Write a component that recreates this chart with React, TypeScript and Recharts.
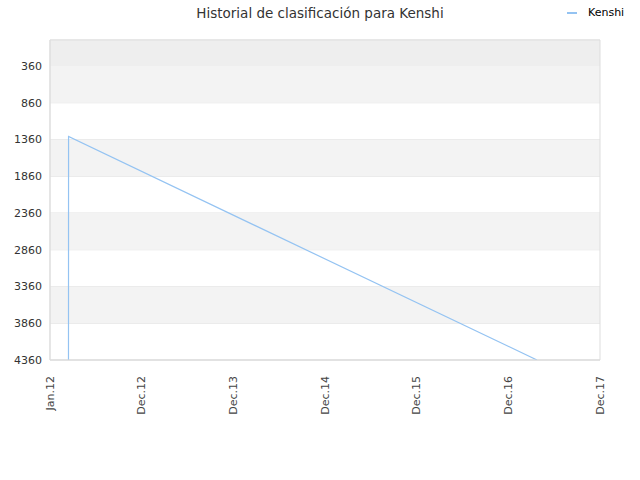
import React from "react";
import {
  LineChart,
  Line,
  XAxis,
  YAxis,
  CartesianGrid,
  ReferenceArea,
} from "recharts";

// months counted from the left edge of the axis (Dec 2011)
const MONTHS = [2.42, 2.43, 63.75];
const RANKS = [4360, 1320, 4360];

const X_TICKS = [0, 12, 24, 36, 48, 60, 72];
const X_LABELS = ["Jan.12", "Dec.12", "Dec.13", "Dec.14", "Dec.15", "Dec.16", "Dec.17"];
const Y_TICKS = [360, 860, 1360, 1860, 2360, 2860, 3360, 3860, 4360];
const Y_DOMAIN: [number, number] = [6, 4360];

// shaded bands between ticks
const BAND_FROM = [6, 360, 1360, 2360, 3360];
const BAND_TO = [360, 860, 1860, 2860, 3860];
const BAND_FILL = ["#eeeeee", "#f3f3f3", "#f3f3f3", "#f3f3f3", "#f3f3f3"];

const LINE = "#94c3f2";
const FONT = "DejaVu Sans, sans-serif";

const data = MONTHS.map((m, i) => ({ m, rank: RANKS[i] }));

function XTick({ x, y, payload }: any) {
  const label = X_LABELS[X_TICKS.indexOf(payload.value)] ?? "";
  return (
    <text
      x={x}
      y={y + 8}
      transform={`rotate(-90 ${x} ${y + 8})`}
      textAnchor="end"
      dominantBaseline="central"
      fontSize={11}
      fill="#444"
      fontFamily={FONT}
    >
      {label}
    </text>
  );
}

export default function App() {
  return (
    <div style={{ position: "absolute", left: 0, top: 0, width: 640, height: 480, background: "#fff" }}>
      <div
        style={{
          position: "absolute",
          top: 5,
          width: 640,
          textAlign: "center",
          fontFamily: FONT,
          fontSize: 13.5,
          color: "#333",
        }}
      >
        Historial de clasificación para Kenshi
      </div>
      <div
        style={{
          position: "absolute",
          top: 6,
          left: 567,
          display: "flex",
          alignItems: "center",
          fontFamily: FONT,
          fontSize: 11,
        }}
      >
        <span style={{ display: "inline-block", width: 10, height: 2, background: LINE, marginRight: 11 }} />
        <span style={{ color: "#000" }}>Kenshi</span>
      </div>
      <LineChart
        width={640}
        height={480}
        data={data}
        margin={{ top: 40, right: 40, bottom: 0, left: 0 }}
      >
        {BAND_FROM.map((f, i) => (
          <ReferenceArea
            key={i}
            y1={f}
            y2={BAND_TO[i]}
            fill={BAND_FILL[i]}
            fillOpacity={1}
            stroke="none"
            ifOverflow="hidden"
          />
        ))}
        <CartesianGrid stroke="#e2e2e2" vertical={false} />
        <XAxis
          type="number"
          dataKey="m"
          domain={[0, 72]}
          ticks={X_TICKS}
          interval={0}
          height={120}
          tick={<XTick />}
          axisLine={{ stroke: "#dddddd" }}
          tickLine={false}
        />
        <YAxis
          type="number"
          reversed
          domain={Y_DOMAIN}
          ticks={Y_TICKS}
          interval={0}
          allowDataOverflow
          width={50}
          tick={{ fontSize: 11, fill: "#333", fontFamily: FONT }}
          axisLine={{ stroke: "#dddddd" }}
          tickLine={false}
        />
        <Line
          type="linear"
          dataKey="rank"
          stroke={LINE}
          strokeWidth={1.2}
          dot={false}
          isAnimationActive={false}
        />
        {/* frame */}
        <ReferenceArea
          x1={0}
          x2={72}
          y1={Y_DOMAIN[0]}
          y2={Y_DOMAIN[1]}
          fill="none"
          stroke="#dddddd"
        />
      </LineChart>
    </div>
  );
}
